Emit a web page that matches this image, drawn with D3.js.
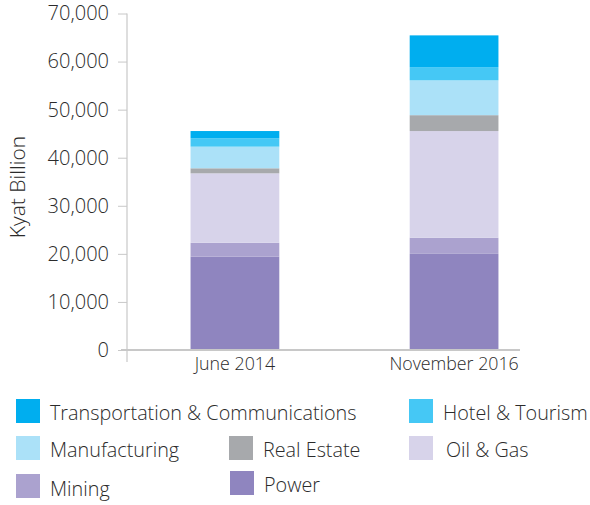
<!DOCTYPE html>
<html>
<head>
<meta charset="utf-8">
<script src="https://cdn.jsdelivr.net/npm/d3@7"></script>
<style>
  body { margin: 0; background: #fff; }
  svg text { font-family: "Open Sans", "Liberation Sans", Arial, sans-serif; font-weight: 300; fill: #2b2b2b; }
</style>
</head>
<body>
<svg id="chart" width="590" height="505"></svg>
<script>
const periods = ["June 2014", "November 2016"];
const sectors = ["Power", "Mining", "Oil & Gas", "Real Estate", "Manufacturing", "Hotel & Tourism", "Transportation & Communications"];
// values per sector, [June 2014, November 2016]
const power = [19400, 20000];
const mining = [2900, 3350];
const oilGas = [14450, 22200];
const realEstate = [1050, 3300];
const manufacturing = [4500, 7250];
const hotelTourism = [1750, 2750];
const transport = [1500, 6600];
const yTicks = [0, 10000, 20000, 30000, 40000, 50000, 60000, 70000];

const colors = {
    "Power": "#8f85bf",
    "Mining": "#aba2cf",
    "Oil & Gas": "#d7d3ea",
    "Real Estate": "#a7a9ac",
    "Manufacturing": "#abe1f8",
    "Hotel & Tourism": "#45c8f5",
    "Transportation & Communications": "#00aeef"
};

const series = [power, mining, oilGas, realEstate, manufacturing, hotelTourism, transport];
const rows = periods.map((p, i) => {
    const r = { period: p };
    sectors.forEach((s, j) => r[s] = series[j][i]);
    return r;
});

const svg = d3.select("#chart");

const x = d3.scaleBand()
    .domain(periods)
    .range([127, 562])
    .paddingInner(0.595)
    .paddingOuter(0.29);

const y = d3.scaleLinear()
    .domain([0, 70000])
    .range([350, 13.5]);

const stacked = d3.stack().keys(sectors)(rows);

// bars
svg.append("g")
    .selectAll("g")
    .data(stacked)
    .enter()
    .append("g")
    .attr("fill", d => colors[d.key])
    .selectAll("rect")
    .data(d => d)
    .enter()
    .append("rect")
    .attr("x", d => x(d.data.period))
    .attr("width", x.bandwidth())
    .attr("y", d => y(d[1]))
    .attr("height", d => y(d[0]) - y(d[1]));

// y axis
const yAxis = svg.append("g")
    .attr("transform", "translate(127,0)")
    .call(d3.axisLeft(y).tickValues(yTicks).tickSize(9).tickPadding(9).tickFormat(d3.format(",")));
yAxis.select(".domain").remove();
yAxis.selectAll(".tick line").attr("stroke", "#c8c8c8");
yAxis.selectAll(".tick text")
    .attr("font-size", 20)
    .attr("font-family", null)
    .style("fill", "#2b2b2b");

svg.append("line")
    .attr("x1", 127).attr("x2", 127)
    .attr("y1", y(70000)).attr("y2", 362)
    .attr("stroke", "#c8c8c8").attr("stroke-width", 1.2);

// baseline
svg.append("line")
    .attr("x1", 121).attr("x2", 520)
    .attr("y1", y(0)).attr("y2", y(0))
    .attr("stroke", "#c8c8c8").attr("stroke-width", 2);

// x labels
svg.append("g")
    .selectAll("text")
    .data(periods)
    .enter()
    .append("text")
    .attr("x", d => x(d) + x.bandwidth() / 2)
    .attr("y", 370)
    .attr("text-anchor", "middle")
    .attr("font-size", 17.8)
    .text(d => d);

// y title
svg.append("text")
    .attr("transform", "translate(25,187) rotate(-90)")
    .attr("text-anchor", "middle")
    .attr("font-size", 21)
    .text("Kyat Billion");

// legend
const legendItems = [
    { key: "Transportation & Communications", x: 16, y: 399 },
    { key: "Hotel & Tourism", x: 409, y: 399 },
    { key: "Manufacturing", x: 16, y: 436 },
    { key: "Real Estate", x: 229, y: 436 },
    { key: "Oil & Gas", x: 409, y: 436 },
    { key: "Mining", x: 16, y: 474 },
    { key: "Power", x: 230, y: 471 }
];

const legend = svg.append("g")
    .selectAll("g")
    .data(legendItems)
    .enter()
    .append("g")
    .attr("transform", d => `translate(${d.x},${d.y})`);

legend.append("rect")
    .attr("width", 24)
    .attr("height", 24)
    .attr("fill", d => colors[d.key]);

legend.append("text")
    .attr("x", d => d.key === "Oil & Gas" ? 37 : 34)
    .attr("y", d => d.key === "Mining" ? 22 : 20.5)
    .attr("font-size", 19.8)
    .text(d => d.key);
</script>
</body>
</html>
